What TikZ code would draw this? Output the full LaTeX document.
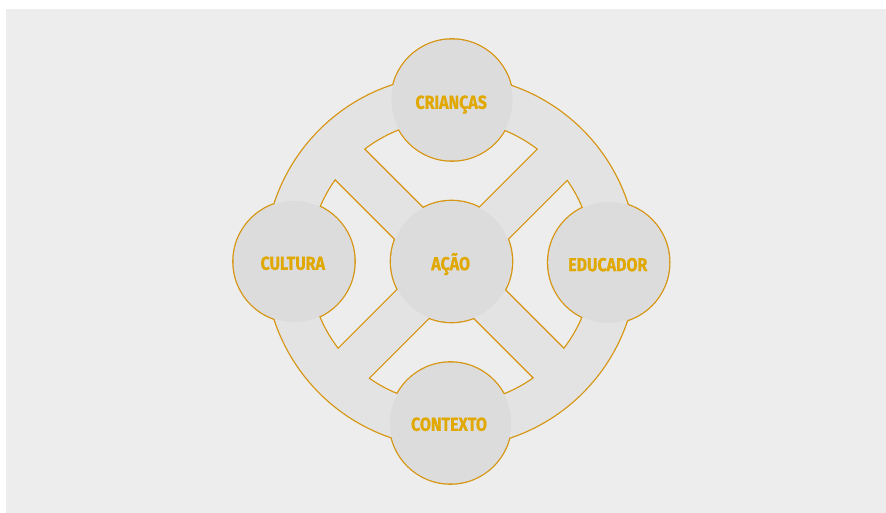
\documentclass[tikz,border=0pt]{standalone}
\usepackage{fontspec}
\newfontfamily\labelfont{Fira Sans}[FakeStretch=0.85,FakeBold=0.6]
\definecolor{pagebg}{RGB}{237,237,237}
\definecolor{ringfill}{RGB}{227,227,227}
\definecolor{bubblefill}{RGB}{220,220,220}
\definecolor{rimgold}{RGB}{214,150,20}
\definecolor{labelgold}{RGB}{224,168,0}
\pgfdeclarelayer{bg}
\pgfsetlayers{bg,main}
\begin{document}
\begin{tikzpicture}[x=1pt,y=1pt,
  bubble/.style={circle, minimum size=121pt, inner sep=0pt, fill=bubblefill},
  lbl/.style={font=\labelfont\bfseries\fontsize{18.8}{20}\selectfont, text=labelgold, inner sep=0pt, text height=13pt, text depth=0pt},
  rim/.style={draw=rimgold, line width=2.6pt}]
\useasboundingbox (0,0) rectangle (886,513);
\coordinate (ringc) at (451,251.5);
% circles
\node[bubble] (acao) at (451.5,251.5) {};
\node[bubble] (criancas) at (452,413) {};
\node[bubble] (contexto) at (450.5,90) {};
\node[bubble] (cultura) at (294,251.5) {};
\node[bubble] (educador) at (608.7,250.5) {};
% labels
\node[lbl] (tcri) at (451.2,410.7) {CRIANÇAS};
\node[lbl] (tacao) at (450.7,249.3) {AÇÃO};
\node[lbl] (tedu) at (607.8,248.3) {EDUCADOR};
\node[lbl] (tcul) at (292.8,249.7) {CULTURA};
\node[lbl] (tcon) at (449,88.7) {CONTEXTO};
\begin{pgfonlayer}{bg}
\fill[pagebg] (6,0) rectangle (886,504);
% outlines (double width, inner half hidden by fills)
\draw[rim] (ringc) circle[radius=185.5];
\draw[rim]
  (451.1,276.6) -- ([shift={(451,251)}]52.26:142.8) arc[start angle=52.26, end angle=127.69, radius=142.8] -- cycle
  (421.9,247.4) -- ([shift={(451,251)}]144.32:142.8) arc[start angle=144.32, end angle=217.74, radius=142.8] -- cycle
  (451.4,217.9) -- ([shift={(451,251)}]234.55:142.8) arc[start angle=234.55, end angle=305.68, radius=142.8] -- cycle
  (480.6,247.1) -- ([shift={(451,251)}]-37.69:142.8) arc[start angle=-37.69, end angle=35.45, radius=142.8] -- cycle;
\draw[rim] (acao.center) circle[radius=60.5];
\draw[rim] (criancas.center) circle[radius=60.5];
\draw[rim] (contexto.center) circle[radius=60.5];
\draw[rim] (cultura.center) circle[radius=60.5];
\draw[rim] (educador.center) circle[radius=60.5];
% ring with spokes (holes cut out)
\fill[ringfill, even odd rule] (ringc) circle[radius=185.5]
  (451.1,276.6) -- ([shift={(451,251)}]52.26:142.8) arc[start angle=52.26, end angle=127.69, radius=142.8] -- cycle
  (421.9,247.4) -- ([shift={(451,251)}]144.32:142.8) arc[start angle=144.32, end angle=217.74, radius=142.8] -- cycle
  (451.4,217.9) -- ([shift={(451,251)}]234.55:142.8) arc[start angle=234.55, end angle=305.68, radius=142.8] -- cycle
  (480.6,247.1) -- ([shift={(451,251)}]-37.69:142.8) arc[start angle=-37.69, end angle=35.45, radius=142.8] -- cycle;
\end{pgfonlayer}
\end{tikzpicture}
\end{document}
